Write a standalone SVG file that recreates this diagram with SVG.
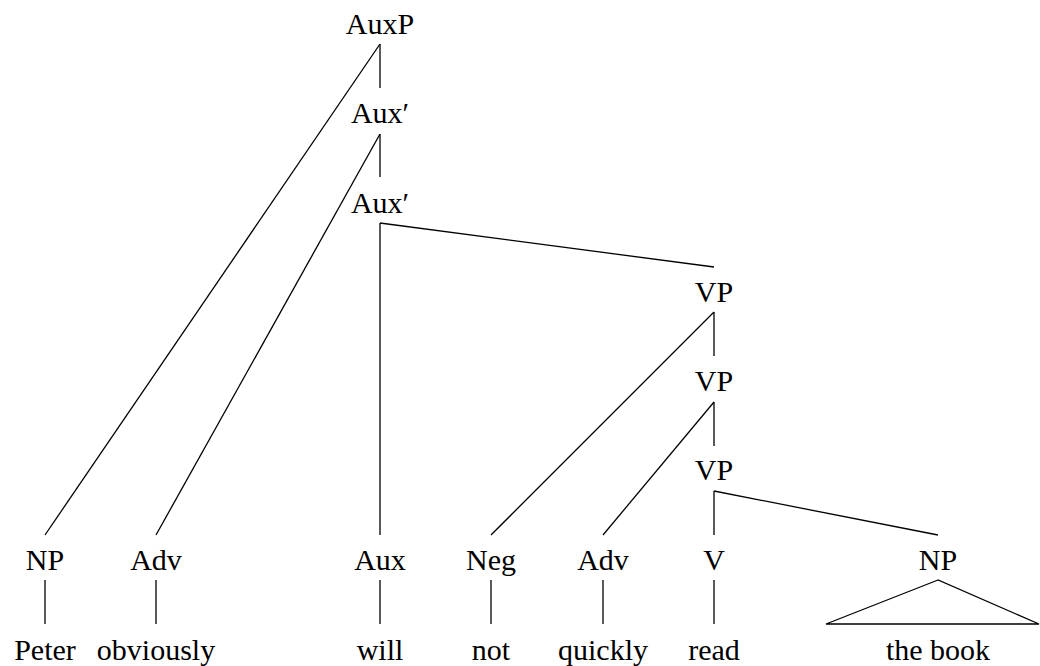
<svg xmlns="http://www.w3.org/2000/svg" width="1040" height="666" viewBox="0 0 1040 666">
<style>
.t text{fill:#000;text-anchor:middle}
.c line,.c polygon{stroke:#000;stroke-width:1.3;fill:none}
</style>
<rect width="1040" height="666" fill="#fff"/>
<g class="c" id="connectors">
<line x1="380" y1="44" x2="380" y2="88"/>
<line x1="380" y1="44" x2="45" y2="535"/>
<line x1="380" y1="134" x2="380" y2="177"/>
<line x1="380" y1="134" x2="156" y2="535"/>
<line x1="380" y1="223" x2="380" y2="535"/>
<line x1="380" y1="223" x2="714" y2="267"/>
<line x1="714" y1="312" x2="714" y2="356"/>
<line x1="714" y1="312" x2="491" y2="535"/>
<line x1="714" y1="402" x2="714" y2="446"/>
<line x1="714" y1="402" x2="603" y2="535"/>
<line x1="714" y1="491" x2="714" y2="535"/>
<line x1="714" y1="491" x2="938" y2="535"/>
<line x1="45" y1="580" x2="45" y2="624"/>
<line x1="156" y1="580" x2="156" y2="624"/>
<line x1="380" y1="580" x2="380" y2="624"/>
<line x1="491" y1="580" x2="491" y2="624"/>
<line x1="603" y1="580" x2="603" y2="624"/>
<line x1="714" y1="580" x2="714" y2="624"/>
<polygon points="938,580 826,624 1039,624"/>
</g>
<g class="t" font-family="Liberation Serif" font-size="30">
<g id="auxp"><text x="380" y="34">AuxP</text></g>
<g id="auxbar1"><text x="380" y="123">Aux′</text></g>
<g id="auxbar2"><text x="380" y="213">Aux′</text></g>
<g id="vp1"><text x="714" y="302">VP</text></g>
<g id="vp2"><text x="714" y="391">VP</text></g>
<g id="vp3"><text x="714" y="480">VP</text></g>
<g id="np1"><text x="45" y="570">NP</text></g>
<g id="adv1"><text x="156" y="570">Adv</text></g>
<g id="aux"><text x="380" y="570">Aux</text></g>
<g id="neg"><text x="491" y="570">Neg</text></g>
<g id="adv2"><text x="603" y="570">Adv</text></g>
<g id="v"><text x="714" y="570">V</text></g>
<g id="np2"><text x="938" y="570">NP</text></g>
<g id="w-peter"><text x="45" y="660">Peter</text></g>
<g id="w-obviously"><text x="156" y="660">obviously</text></g>
<g id="w-will"><text x="380" y="660">will</text></g>
<g id="w-not"><text x="491" y="660">not</text></g>
<g id="w-quickly"><text x="603" y="660">quickly</text></g>
<g id="w-read"><text x="714" y="660">read</text></g>
<g id="w-thebook"><text x="938" y="660">the book</text></g>
</g>
</svg>
